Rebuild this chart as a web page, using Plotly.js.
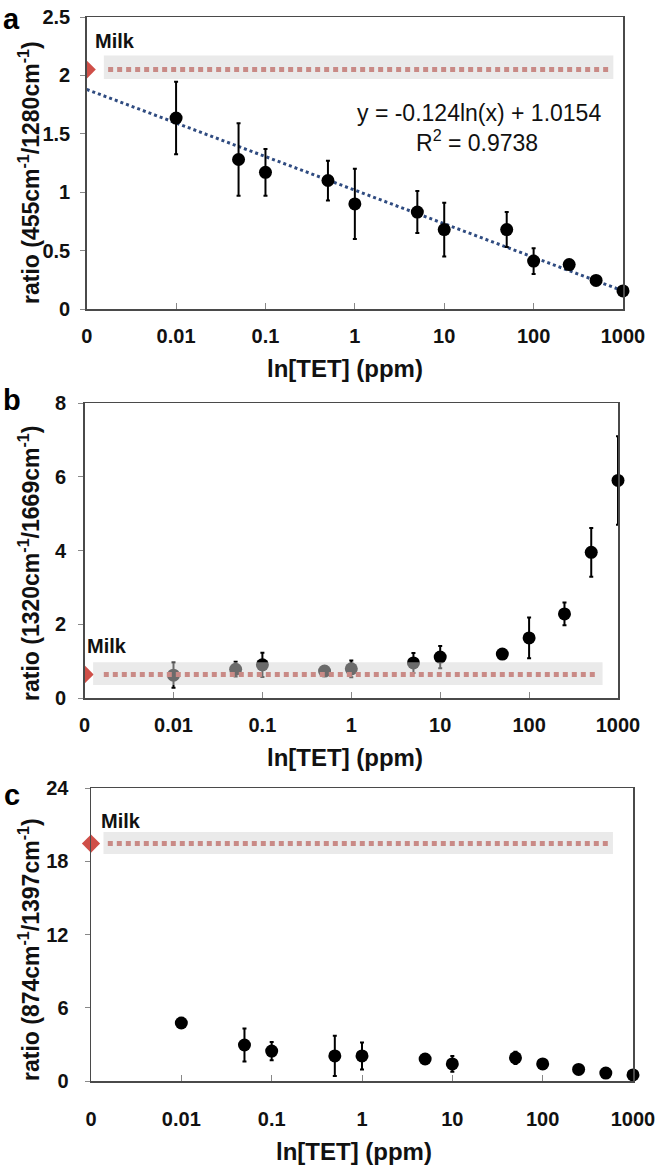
<!DOCTYPE html>
<html>
<head>
<meta charset="utf-8">
<script src="https://cdn.plot.ly/plotly-3.0.1.min.js"></script>
<style>
html,body{margin:0;padding:0;background:#ffffff;}
#chart{width:663px;height:1165px;}
</style>
</head>
<body>
<div id="chart"></div>
<script>
// ---------------- data ----------------
const concentrations = [0.01, 0.05, 0.1, 0.5, 1, 5, 10, 50, 100, 250, 500, 1000];
const tickValues = [0.001, 0.01, 0.1, 1, 10, 100, 1000];
const tickLabels = ["0", "0.01", "0.1", "1", "10", "100", "1000"];

const ratioA = [1.635, 1.28, 1.17, 1.10, 0.90, 0.83, 0.68, 0.68, 0.41, 0.38, 0.245, 0.155];
const errorA = [0.31, 0.31, 0.20, 0.17, 0.30, 0.18, 0.23, 0.15, 0.11, 0.02, 0.02, 0.02];

const ratioB = [0.62, 0.78, 0.90, 0.73, 0.79, 0.95, 1.11, 1.19, 1.63, 2.28, 3.95, 5.90];
const errorB = [0.34, 0.20, 0.33, 0.04, 0.23, 0.27, 0.30, 0.08, 0.55, 0.31, 0.66, 1.20];

const ratioC = [4.75, 2.95, 2.45, 2.05, 2.05, 1.80, 1.40, 1.90, 1.40, 0.95, 0.65, 0.50];
const errorC = [0.10, 1.35, 0.75, 1.65, 1.10, 0.10, 0.65, 0.50, 0.10, 0.10, 0.10, 0.10];

const milkX = [0.001];
const milkValues = [2.05, 0.64, 19.45];
const milkBandLow = [1.97, 0.35, 18.6];
const milkBandHigh = [2.17, 0.97, 20.4];

const trendX = [0.001, 1000];
const trendY = [1.88, 0.155];
const equationText = "y = -0.124ln(x) + 1.0154";
const r2Text = "R<sup>2</sup> = 0.9738";

const panelLetters = ["a", "b", "c"];
const yTitles = [
  "ratio (455cm<sup>-1</sup>/1280cm<sup>-1</sup>)",
  "ratio (1320cm<sup>-1</sup>/1669cm<sup>-1</sup>)",
  "ratio (874cm<sup>-1</sup>/1397cm<sup>-1</sup>)"
];
const xTitle = "ln[TET] (ppm)";
const milkLabel = "Milk";
const yRanges = [[0, 2.5], [0, 8], [0, 24]];
const yDticks = [0.5, 2, 6];

// ---------------- geometry (pixels) ----------------
const W = 663, H = 1165;
const panels = [
  {left: 86.7, right: 623, top: 17,  bottom: 309, letter: [11, 19],  milk: [115, 41],  xt: [345, 368],  yt: [29, 173], band: [0.032, 0.982], line: [0.04, 0.975], clipDiamond: true,  xStand: 8,  yStand: 6},
  {left: 84.6, right: 618, top: 403, bottom: 698, letter: [12, 400], milk: [107, 646], xt: [345, 757],  yt: [29, 564], band: [0.016, 0.971], line: [0.036, 0.963], clipDiamond: true,  xStand: 8,  yStand: 8},
  {left: 91,   right: 633, top: 788, bottom: 1081,letter: [12, 795], milk: [121, 821], xt: [354, 1151], yt: [29, 950], band: [0.023, 0.963], line: [0.031, 0.956], clipDiamond: false, xStand: 19, yStand: 12}
];
const px = v => v / W;
const py = v => 1 - v / H;

const FONT = "Liberation Sans, Arial, sans-serif";
const series = [ratioA, ratioB, ratioC];
const errors = [errorA, errorB, errorC];

const traces = [];
// trendline (panel a)
traces.push({
  x: trendX, y: trendY, type: "scatter", mode: "lines",
  xaxis: "x", yaxis: "y",
  line: {color: "#2f4b80", width: 3, dash: "3px,3px"},
  hoverinfo: "skip", showlegend: false
});
for (let i = 0; i < 3; i++) {
  const xa = i === 0 ? "x" : "x" + (i + 1);
  const ya = i === 0 ? "y" : "y" + (i + 1);
  traces.push({
    x: concentrations, y: series[i], type: "scatter", mode: "markers",
    xaxis: xa, yaxis: ya, cliponaxis: false,
    marker: {color: "#000000", size: 13, symbol: "circle"},
    error_y: {type: "data", array: errors[i], visible: true, color: "#000000", thickness: 2, width: 2},
    showlegend: false
  });
  traces.push({
    x: milkX, y: [milkValues[i]], type: "scatter", mode: "markers",
    xaxis: xa, yaxis: ya, cliponaxis: panels[i].clipDiamond,
    marker: {color: "#cf4f48", size: 14, symbol: "diamond"},
    showlegend: false
  });
}

const layout = {
  width: W, height: H,
  margin: {l: 0, r: 0, t: 0, b: 0},
  paper_bgcolor: "#ffffff", plot_bgcolor: "#ffffff",
  font: {family: FONT, color: "#111111"},
  showlegend: false,
  shapes: [], annotations: []
};

for (let i = 0; i < 3; i++) {
  const p = panels[i];
  const sx = i === 0 ? "" : String(i + 1);
  layout["xaxis" + sx] = {
    type: "log", range: [-3, 3],
    domain: [px(p.left), px(p.right)],
    anchor: "y" + sx,
    tickmode: "array", tickvals: tickValues, ticktext: tickLabels,
    ticks: "inside", ticklen: 6, tickcolor: "#888888", tickwidth: 1,
    ticklabelstandoff: p.xStand,
    tickfont: {family: FONT, size: 20, weight: "bold", color: "#111111"},
    showline: true, linecolor: "#4a4a4a", linewidth: 1.5, mirror: true,
    showgrid: false, zeroline: false
  };
  layout["yaxis" + sx] = {
    range: yRanges[i], dtick: yDticks[i], tick0: 0,
    domain: [py(p.bottom), py(p.top)],
    anchor: "x" + sx,
    ticks: "outside", ticklen: 5, tickcolor: "#888888", tickwidth: 1,
    ticklabelstandoff: p.yStand,
    tickfont: {family: FONT, size: 20, weight: "bold", color: "#111111"},
    showline: true, linecolor: "#4a4a4a", linewidth: 1.5, mirror: true,
    showgrid: false, zeroline: false
  };
  const xd = "x" + sx + " domain";
  const yr = "y" + sx;
  // milk band (semi-transparent, above the points)
  layout.shapes.push({
    type: "rect", xref: xd, yref: yr, layer: "above",
    x0: p.band[0], x1: p.band[1], y0: milkBandLow[i], y1: milkBandHigh[i],
    fillcolor: "rgba(214,214,214,0.5)", line: {width: 0}
  });
  // milk dotted line
  layout.shapes.push({
    type: "line", xref: xd, yref: yr, layer: "above",
    x0: p.line[0], x1: p.line[1], y0: milkValues[i], y1: milkValues[i],
    line: {color: "#c98a86", width: 5, dash: "5px,4px"}
  });
  // panel letter
  layout.annotations.push({
    text: panelLetters[i], xref: "paper", yref: "paper",
    x: px(p.letter[0]), y: py(p.letter[1]), xanchor: "center", yanchor: "middle",
    showarrow: false, font: {family: FONT, size: 29, weight: "bold", color: "#000000"}
  });
  // Milk label
  layout.annotations.push({
    text: milkLabel, xref: "paper", yref: "paper",
    x: px(p.milk[0]), y: py(p.milk[1]), xanchor: "center", yanchor: "middle",
    showarrow: false, font: {family: FONT, size: 20, weight: "bold", color: "#111111"}
  });
  // x title
  layout.annotations.push({
    text: xTitle, xref: "paper", yref: "paper",
    x: px(p.xt[0]), y: py(p.xt[1]), xanchor: "center", yanchor: "middle",
    showarrow: false, font: {family: FONT, size: 24, weight: "bold", color: "#111111"}
  });
  // y title
  layout.annotations.push({
    text: yTitles[i], xref: "paper", yref: "paper", textangle: -90,
    x: px(p.yt[0]), y: py(p.yt[1]), xanchor: "center", yanchor: "middle",
    showarrow: false, font: {family: FONT, size: 23, weight: "bold", color: "#111111"}
  });
}
// regression equation
layout.annotations.push({
  text: equationText, xref: "paper", yref: "paper",
  x: px(479), y: py(113), xanchor: "center", yanchor: "middle",
  showarrow: false, font: {family: FONT, size: 23, color: "#111111"}
});
layout.annotations.push({
  text: r2Text, xref: "paper", yref: "paper",
  x: px(477), y: py(141), xanchor: "center", yanchor: "middle",
  showarrow: false, font: {family: FONT, size: 23, color: "#111111"}
});

Plotly.newPlot("chart", traces, layout, {displayModeBar: false, staticPlot: true});
</script>
</body>
</html>
